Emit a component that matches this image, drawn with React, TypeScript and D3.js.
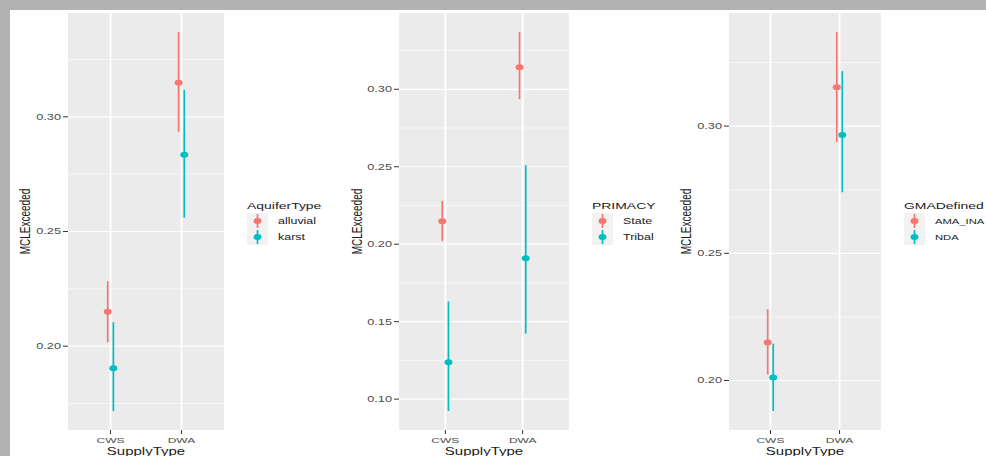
import React from 'react';
import * as d3 from 'd3';

// values (mean with lower / upper interval ends)
const supplyTypes = ['CWS', 'DWA'];

const aquiferTypes = ['alluvial', 'karst'];
const aquiferMean = [[0.215, 0.3148], [0.1904, 0.2835]];
const aquiferLow = [[0.2017, 0.2935], [0.1717, 0.256]];
const aquiferHigh = [[0.2283, 0.337], [0.2104, 0.3117]];
const aquiferTicks = [0.2, 0.25, 0.3];

const primacyTypes = ['State', 'Tribal'];
const primacyMean = [[0.2148, 0.3142], [0.1238, 0.191]];
const primacyLow = [[0.202, 0.2936], [0.0923, 0.1423]];
const primacyHigh = [[0.228, 0.337], [0.163, 0.251]];
const primacyTicks = [0.1, 0.15, 0.2, 0.25, 0.3];

const gmaTypes = ['AMA_INA', 'NDA'];
const gmaMean = [[0.2149, 0.3153], [0.2012, 0.2965]];
const gmaLow = [[0.2024, 0.2937], [0.188, 0.274]];
const gmaHigh = [[0.228, 0.337], [0.2145, 0.3216]];
const gmaTicks = [0.2, 0.25, 0.3];

const colors = ['#F8766D', '#00BFC4'];
const W = 986;
const H = 456;
const TOP = 13;
const BOTTOM = 430;
const SX = 1.5; // the picture is stretched sideways
const FONT = '"Liberation Sans", Arial, sans-serif';

const panels = [
  { title: 'AquiferType', groups: aquiferTypes, mean: aquiferMean, low: aquiferLow, high: aquiferHigh, ticks: aquiferTicks, left: 68, right: 224, ylabX: 25, legX: 247, labSize: 8.3 },
  { title: 'PRIMACY', groups: primacyTypes, mean: primacyMean, low: primacyLow, high: primacyHigh, ticks: primacyTicks, left: 399, right: 569, ylabX: 357, legX: 592, labSize: 8.3 },
  { title: 'GMADefined', groups: gmaTypes, mean: gmaMean, low: gmaLow, high: gmaHigh, ticks: gmaTicks, left: 729, right: 881, ylabX: 686, legX: 904, labSize: 7.5 },
];

const T = ({ x, y, size, fill = '#4D4D4D', anchor = 'middle', rot = false, children }: any) => (
  <text
    transform={`translate(${x},${y}) scale(${SX},1)${rot ? ' rotate(-90)' : ''}`}
    fontSize={size}
    fill={fill}
    textAnchor={anchor}
    dy="0.35em"
    fontFamily={FONT}
  >
    {children}
  </text>
);

const Panel = ({ p }: any) => {
  const vals = [...p.low.flat(), ...p.high.flat()];
  const lo = d3.min(vals) as number;
  const hi = d3.max(vals) as number;
  const pad = (hi - lo) * 0.05;
  const y = d3.scaleLinear().domain([lo - pad, hi + pad]).range([BOTTOM, TOP]);
  const x = d3.scalePoint().domain(supplyTypes).range([p.left, p.right]).padding(0.6);
  const step = p.ticks[1] - p.ticks[0];
  const minor = d3.range(p.ticks[0] - step / 2, p.ticks[p.ticks.length - 1] + step, step)
    .filter((v) => v > lo - pad && v < hi + pad);
  const fmt = d3.format('.2f');
  const dodge = 0.08 * x.step();

  return (
    <g>
      <rect x={p.left} y={TOP} width={p.right - p.left} height={BOTTOM - TOP} fill="#EBEBEB" />
      {minor.map((v) => (
        <line key={'m' + v} x1={p.left} x2={p.right} y1={y(v)} y2={y(v)} stroke="#fff" strokeWidth={0.6} />
      ))}
      {p.ticks.map((v: number) => (
        <line key={'g' + v} x1={p.left} x2={p.right} y1={y(v)} y2={y(v)} stroke="#fff" strokeWidth={1.2} />
      ))}
      {supplyTypes.map((s) => (
        <line key={'v' + s} x1={x(s)} x2={x(s)} y1={TOP} y2={BOTTOM} stroke="#fff" strokeWidth={1.8} />
      ))}

      {p.groups.map((g: string, gi: number) =>
        supplyTypes.map((s, si) => {
          const cx = (x(s) as number) + (gi - 0.5) * dodge;
          return (
            <g key={g + s}>
              <line x1={cx} x2={cx} y1={y(p.low[gi][si])} y2={y(p.high[gi][si])} stroke={colors[gi]} strokeWidth={1.7} />
              <ellipse cx={cx} cy={y(p.mean[gi][si])} rx={4} ry={3} fill={colors[gi]} />
            </g>
          );
        })
      )}

      {p.ticks.map((v: number) => (
        <g key={'t' + v}>
          <line x1={p.left - 5} x2={p.left} y1={y(v)} y2={y(v)} stroke="#333" strokeWidth={1} />
          <T x={p.left - 7} y={y(v)} size={8.5} anchor="end">{fmt(v)}</T>
        </g>
      ))}
      {supplyTypes.map((s) => (
        <g key={'xt' + s}>
          <line x1={x(s)} x2={x(s)} y1={BOTTOM} y2={BOTTOM + 4} stroke="#333" strokeWidth={1} />
          <T x={x(s)} y={440} size={8}>{s}</T>
        </g>
      ))}
      <T x={(p.left + p.right) / 2} y={451} size={10} fill="#1a1a1a">SupplyType</T>
      <T x={p.ylabX} y={(TOP + BOTTOM) / 2} size={10} fill="#1a1a1a" rot>MCLExceeded</T>

      <T x={p.legX} y={206} size={9.3} fill="#1a1a1a" anchor="start">{p.title}</T>
      {p.groups.map((g: string, gi: number) => {
        const cy = 221 + gi * 16;
        const kx = p.legX + 10.5;
        return (
          <g key={'l' + g}>
            <rect x={p.legX} y={cy - 8} width={21} height={16} fill="#F2F2F2" />
            <line x1={kx} x2={kx} y1={cy - 7} y2={cy + 7} stroke={colors[gi]} strokeWidth={1.7} />
            <ellipse cx={kx} cy={cy} rx={4} ry={3} fill={colors[gi]} />
            <T x={p.legX + 31} y={cy} size={p.labSize} fill="#1a1a1a" anchor="start">{g}</T>
          </g>
        );
      })}
    </g>
  );
};

export default function App() {
  return (
    <svg width={W} height={H} style={{ position: 'absolute', left: 0, top: 0, background: '#fff' }}>
      <rect x={0} y={0} width={W} height={H} fill="#fff" />
      <rect x={0} y={0} width={W} height={10} fill="#B2B2B2" />
      <rect x={0} y={0} width={10} height={H} fill="#B2B2B2" />
      {panels.map((p) => (
        <Panel key={p.title} p={p} />
      ))}
    </svg>
  );
}
